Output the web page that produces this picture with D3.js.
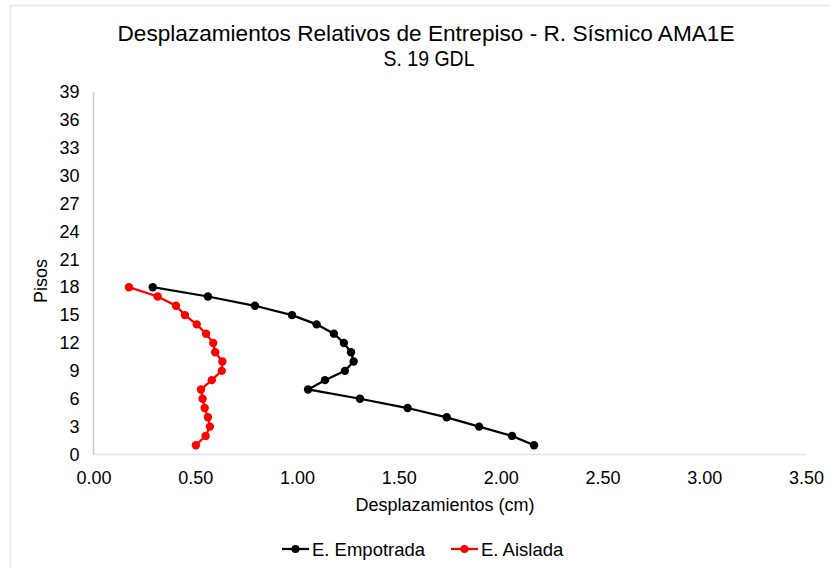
<!DOCTYPE html>
<html>
<head>
<meta charset="utf-8">
<script src="https://cdn.jsdelivr.net/npm/d3@7"></script>
<style>
  body { margin: 0; background: #fff; }
  svg { display: block; font-family: "Liberation Sans", Arial, sans-serif; }
</style>
</head>
<body>
<svg id="chart" width="830" height="568"></svg>
<script>
const floors = [1,2,3,4,5,6,7,8,9,10,11,12,13,14,15,16,17,18];
const empotrada = [2.164,2.056,1.894,1.735,1.543,1.309,1.054,1.137,1.235,1.278,1.265,1.230,1.181,1.096,0.975,0.793,0.562,0.291];
const aislada = [0.503,0.551,0.572,0.562,0.546,0.536,0.528,0.581,0.630,0.633,0.598,0.588,0.553,0.507,0.449,0.405,0.315,0.174];
const xTicks = [0,0.5,1,1.5,2,2.5,3,3.5];
const yTicks = [0,3,6,9,12,15,18,21,24,27,30,33,36,39];
const seriesNames = ["E. Empotrada","E. Aislada"];
const seriesColors = ["#000000","#ff0000"];

const svg = d3.select("#chart");

// chart outer border (only top/left visible)
svg.append("rect").attr("x",10.5).attr("y",5.5).attr("width",900).attr("height",700)
  .attr("fill","none").attr("stroke","#e3e6ea").attr("stroke-width",1.5);

const x = d3.scaleLinear().domain([0,3.5]).range([93.5,806]);
const y = d3.scaleLinear().domain([0,39]).range([454.5,92]);

// axes lines
svg.append("line").attr("x1",x(0)).attr("x2",x(3.5)).attr("y1",y(0)).attr("y2",y(0))
  .attr("stroke","#e1e3e8").attr("stroke-width",1.5);
svg.append("line").attr("x1",x(0)).attr("x2",x(0)).attr("y1",y(0)).attr("y2",y(39))
  .attr("stroke","#c3cbd9").attr("stroke-width",1.5);

// x tick labels
const xAxis = d3.axisBottom(x).tickValues(xTicks).tickFormat(d3.format(".2f")).tickSize(0).tickPadding(17);
const gx = svg.append("g").attr("transform",`translate(0,${y(0)})`).call(xAxis);
gx.select(".domain").remove();
gx.selectAll("text").attr("font-size",18).attr("fill","#000").attr("font-family","Liberation Sans, Arial, sans-serif");

// y tick labels
const yAxis = d3.axisLeft(y).tickValues(yTicks).tickFormat(d3.format("d")).tickSize(0).tickPadding(14);
const gy = svg.append("g").attr("transform",`translate(${x(0)},0)`).call(yAxis);
gy.select(".domain").remove();
gy.selectAll("text").attr("font-size",18).attr("fill","#000").attr("font-family","Liberation Sans, Arial, sans-serif");

// titles
svg.append("text").attr("x",426).attr("y",41).attr("text-anchor","middle")
  .attr("font-size",21.5).attr("fill","#000")
  .attr("textLength",617).attr("lengthAdjust","spacingAndGlyphs")
  .text("Desplazamientos Relativos de Entrepiso - R. Sísmico AMA1E");
svg.append("text").attr("x",429).attr("y",66).attr("text-anchor","middle")
  .attr("font-size",21.5).attr("fill","#000")
  .attr("textLength",91).attr("lengthAdjust","spacingAndGlyphs")
  .text("S. 19 GDL");

svg.append("text").attr("x",445).attr("y",511).attr("text-anchor","middle")
  .attr("font-size",18).attr("fill","#000").text("Desplazamientos (cm)");
svg.append("text").attr("transform","translate(47,281) rotate(-90)").attr("text-anchor","middle")
  .attr("font-size",18).attr("fill","#000").text("Pisos");

// series
const line = d3.line().x(d => x(d[0])).y(d => y(d[1]));
[empotrada, aislada].forEach((vals, i) => {
  const data = vals.map((v, j) => [v, floors[j]]);
  svg.append("path").datum(data).attr("d", line).attr("fill","none")
    .attr("stroke", seriesColors[i]).attr("stroke-width", 2.25);
  svg.selectAll(null).data(data).enter().append("circle")
    .attr("cx", d => x(d[0])).attr("cy", d => y(d[1])).attr("r", 4.2)
    .attr("fill", seriesColors[i]);
});

// legend
const legendX = [282, 451];
seriesNames.forEach((n, i) => {
  const g = svg.append("g").attr("transform", `translate(${legendX[i]},549)`);
  g.append("line").attr("x1",0).attr("x2",27).attr("y1",0).attr("y2",0)
    .attr("stroke",seriesColors[i]).attr("stroke-width",2.25);
  g.append("circle").attr("cx",13.5).attr("cy",0).attr("r",4).attr("fill",seriesColors[i]);
  g.append("text").attr("x",30).attr("y",6.5).attr("font-size",18.5).attr("fill","#000").text(n);
});
</script>
</body>
</html>
